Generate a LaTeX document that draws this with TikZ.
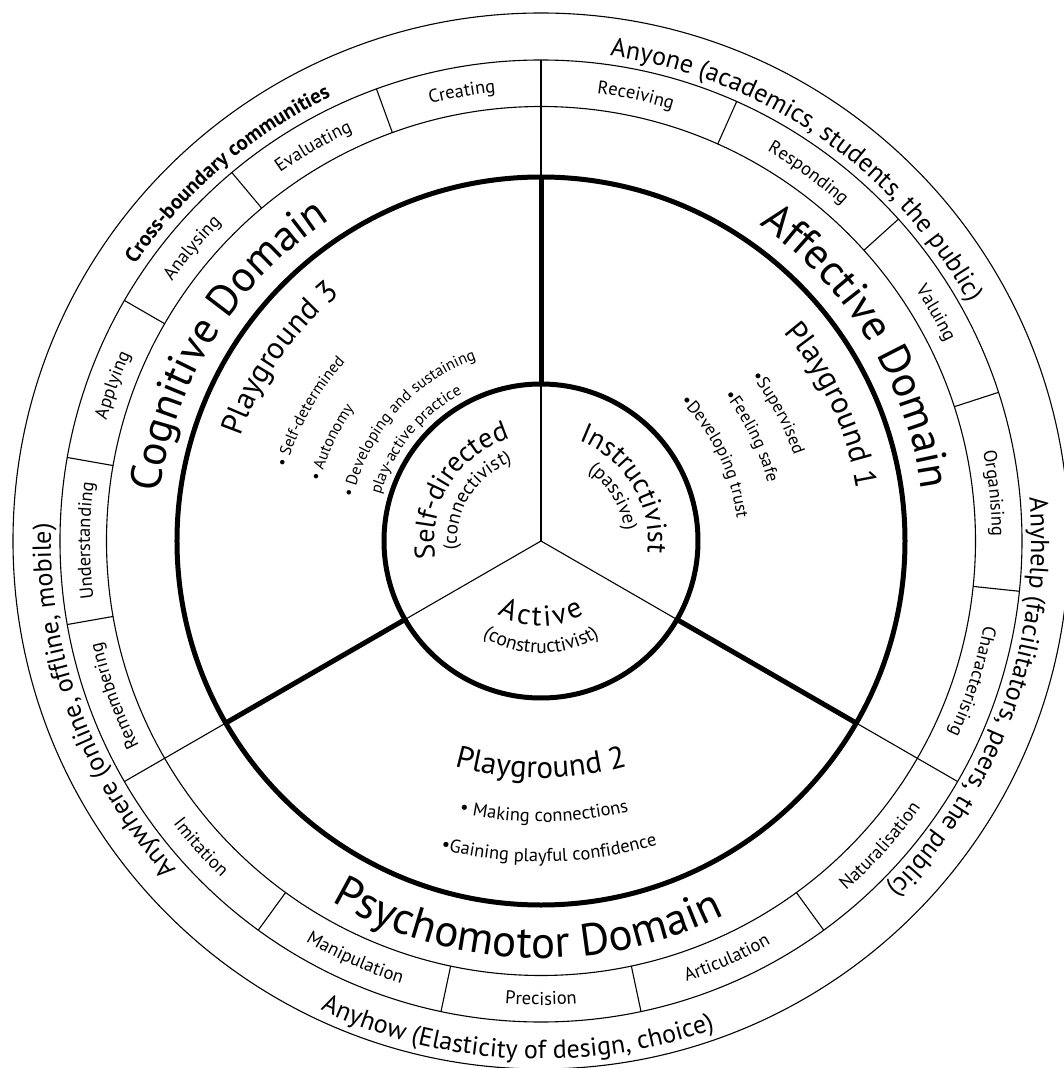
\documentclass[tikz,border=0pt]{standalone}
\usepackage{fontspec}
\setmainfont{PT Sans}
\usetikzlibrary{decorations.text}
\newcommand\fzA{\fontsize{26}{30}\selectfont}
\newcommand\fzB{\fontsize{18.5}{22}\selectfont}
\newcommand\fzD{\fontsize{43.5}{50}\selectfont}
\newcommand\fzE{\fontsize{45}{52}\selectfont}
\newcommand\fzP{\fontsize{31}{36}\selectfont}
\newcommand\fzL{\fontsize{16}{20}\selectfont}
\newcommand\fzM{\fontsize{17.5}{21}\selectfont}
\newcommand\fzN{\fontsize{18.5}{22}\selectfont}
\newcommand\fzI{\fontsize{28}{32}\selectfont}
\newcommand\fzJ{\fontsize{29}{34}\selectfont}
\newcommand\fzS{\fontsize{19.5}{23}\selectfont}
\newcommand\fzX{\fontsize{21}{25}\selectfont\bfseries}
\newcommand\trk{\kern3pt}
% clockwise, centred (tops outward)
\newcommand\cwc[3]{\path[decorate,decoration={text along path,text align=center,text={#3}}] (#2+89:#1pt) arc[start angle=#2+89,end angle=#2-89,radius=#1pt];}
% counter-clockwise, centred (tops inward)
\newcommand\ccwc[3]{\path[decorate,decoration={text along path,text align=center,text={#3}}] (#2-89:#1pt) arc[start angle=#2-89,end angle=#2+89,radius=#1pt];}
% clockwise, left aligned from start angle
\newcommand\cwl[3]{\path[decorate,decoration={text along path,text={#3}}] (#2:#1pt) arc[start angle=#2,end angle=#2-170,radius=#1pt];}
\tikzset{
  thinl/.style={line width=1.1pt,black},
  thickl/.style={line width=5pt,black}
}
\begin{document}
\begin{tikzpicture}
\fill[white] (-541pt,-527pt) rectangle (523pt,541pt);
\useasboundingbox (-541pt,-527pt) rectangle (523pt,541pt);
\begin{scope}
\clip (-541pt,-527pt) rectangle (523pt,541pt);
% circles
\draw[thinl] (0,0) circle[radius=528pt];
\draw[thinl] (0,0) circle[radius=481pt];
\draw[thinl] (0,0) circle[radius=434.5pt];
\draw[thickl] (0,0) circle[radius=364pt];
\draw[thickl] (0,0) circle[radius=157pt];
% spokes
\foreach \a in {90,210,330}{
  \draw[thinl] (0,0) -- (\a:157pt);
  \draw[thickl] (\a:157pt) -- (\a:364pt);
  \draw[thinl] (\a:364pt) -- (\a:481pt);
}
% Bloom dividers
\foreach \a in {110,130,150,170,190,66,42,18,-6,234,258,282,306}
  \draw[thinl] (\a:434.5pt) -- (\a:481pt);
\end{scope}
% outer ring texts
\cwc{490}{55.5}{|\fzA|Anyone (academics, students, the public)}
\cwc{490}{-20}{|\fzA|Anyhelp (facilitators, peers, the public)}
\cwc{490}{200}{|\fzA|Anywhere (online, offline, mobile)}
\ccwc{518}{267.2}{|\fzA|Anyhow (Elasticity of design, choice)}
\cwc{491}{130.5}{|\fzX|Cross-boundary communities}
% Bloom ring texts
\cwc{451}{100}{|\fzB|Creating}
\cwc{451}{120}{|\fzB|Evaluating}
\cwc{451}{140}{|\fzB|Analysing}
\cwc{451}{160}{|\fzB|Applying}
\cwc{451}{180}{|\fzB|Understanding}
\cwc{451}{200}{|\fzB|Remembering}
\cwc{451}{78}{|\fzB|Receiving}
\cwc{451}{54}{|\fzB|Responding}
\cwc{451}{30}{|\fzB|Valuing}
\cwc{451}{6}{|\fzB|Organising}
\cwc{451}{-18}{|\fzB|Characterising}
\ccwc{464}{222}{|\fzB|Imitation}
\ccwc{464}{246}{|\fzB|Manipulation}
\ccwc{464}{270}{|\fzB|Precision}
\ccwc{464}{294}{|\fzB|Articulation}
\ccwc{464}{318}{|\fzB|Naturalisation}
% domain titles
\cwc{384}{148}{|\fzD|Cognitive Domain}
\cwc{384}{31.5}{|\fzD|Affective Domain}
\ccwc{417}{268}{|\fzE|Psychomotor Domain}
% playgrounds
\cwc{318}{145}{|\fzP|Playground 3}
\cwc{320}{25}{|\fzP|Playground 1}
\begin{scope}[shift={(0pt,80pt)}]
\ccwc{317}{270}{|\fzP|Playground 2}
\ccwc{361}{270.5}{|\fzN|• Making connections}
\ccwc{401}{271.2}{|\fzN|•Gaining playful confidence}
\end{scope}
% cognitive bullets
\cwl{265}{164}{|\fzL|• Self-determined}
\cwl{229}{165}{|\fzL|• Autonomy}
\cwl{193}{167}{|\fzL|• Developing and sustaining}
\cwl{167}{164}{|\fzL|play-active practice}
% affective bullets
\cwl{267}{38}{|\fzM|•Supervised}
\cwl{234}{38.5}{|\fzM|•Feeling safe}
\cwl{197}{45}{|\fzM|•Developing trust}
% inner texts
\cwc{107}{148}{|\fzI|Self-directed}
\cwc{84}{148}{|\fzS|(connectivist)}
\cwc{107}{31.5}{|\fzI|Instructivist}
\cwc{84}{31.5}{|\fzS|(passive)}
\ccwc{85}{270}{|\fzJ|A{\trk}c{\trk}t{\trk}i{\trk}v{\trk}e}
\ccwc{112}{270}{|\fzS|(constructivist)}
\end{tikzpicture}
\end{document}
